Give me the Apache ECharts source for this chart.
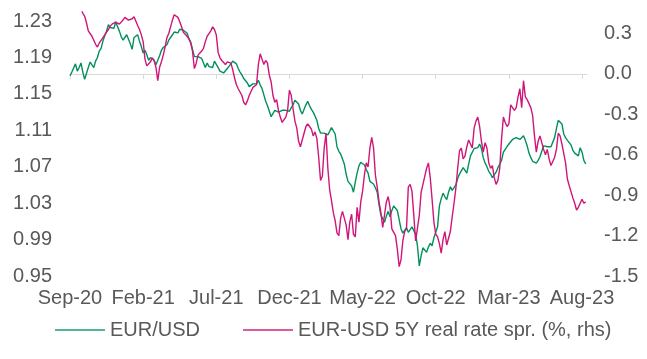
<!DOCTYPE html>
<html>
<head>
<meta charset="utf-8">
<script src="https://cdn.jsdelivr.net/npm/echarts@6/dist/echarts.min.js"></script>
<style>html,body{margin:0;padding:0;background:#fff;}#c{width:647px;height:359px;}</style>
</head>
<body>
<div id="c"></div>
<script>
// x tick labels (every 5 months)
const tickLabels = ['Sep-20','Feb-21','Jul-21','Dec-21','May-22','Oct-22','Mar-23','Aug-23'];
// sampling step in months (roughly twice-weekly observations)
const stepMonths = 0.125;

// EUR/USD (lhs)
const eurusd = [
1.170,1.174,1.176,1.183,1.175,1.179,1.184,1.174,1.166,1.166,
1.179,1.185,1.184,1.179,1.186,1.190,1.197,1.200,1.208,1.214,
1.219,1.226,1.223,1.222,1.222,1.229,1.229,1.219,1.213,1.209,
1.212,1.215,1.215,1.205,1.199,1.212,1.214,1.215,1.208,1.202,
1.195,1.198,1.193,1.187,1.190,1.192,1.187,1.182,1.183,1.192,
1.198,1.201,1.200,1.204,1.209,1.212,1.212,1.218,1.216,1.217,
1.221,1.223,1.220,1.218,1.217,1.211,1.207,1.199,1.191,1.192,
1.191,1.193,1.189,1.184,1.179,1.184,1.180,1.181,1.179,1.186,
1.186,1.179,1.175,1.176,1.173,1.175,1.178,1.178,1.183,1.186,
1.186,1.183,1.178,1.174,1.171,1.167,1.165,1.162,1.158,1.157,
1.161,1.163,1.161,1.165,1.160,1.156,1.149,1.142,1.137,1.131,
1.125,1.126,1.132,1.130,1.130,1.129,1.132,1.131,1.132,1.130,
1.131,1.135,1.138,1.143,1.145,1.139,1.132,1.128,1.130,1.138,
1.142,1.137,1.133,1.130,1.128,1.121,1.112,1.107,1.106,1.107,
1.106,1.105,1.109,1.113,1.115,1.106,1.092,1.087,1.084,1.082,
1.073,1.062,1.054,1.052,1.049,1.042,1.053,1.063,1.071,1.075,
1.076,1.072,1.067,1.063,1.054,1.055,1.051,1.047,1.042,1.028,
1.017,1.013,1.009,1.016,1.021,1.015,1.022,1.027,1.029,1.022,
1.012,1.002,0.997,1.000,1.003,0.998,1.000,1.004,1.006,0.996,
0.983,0.961,0.972,0.981,0.981,0.976,0.982,0.986,0.983,0.992,
0.998,1.004,1.027,1.035,1.041,1.037,1.034,1.042,1.048,1.044,
1.044,1.050,1.057,1.062,1.064,1.069,1.066,1.063,1.073,1.082,
1.086,1.090,1.090,1.091,1.095,1.090,1.080,1.074,1.070,1.065,
1.062,1.058,1.057,1.064,1.069,1.073,1.077,1.086,1.088,1.092,
1.095,1.093,1.100,1.101,1.102,1.103,1.100,1.102,1.104,1.099,
1.093,1.085,1.080,1.076,1.076,1.074,1.077,1.081,1.087,1.093,
1.095,1.092,1.094,1.092,1.094,1.102,1.112,1.121,1.122,1.117,
1.106,1.102,1.099,1.097,1.094,1.088,1.085,1.084,1.082,1.091,
1.086,1.077,1.073
];

// EUR-USD 5Y real rate spread, % (rhs)
const realSpread = [
0.66,0.64,0.62,0.60,0.57,0.53,0.49,0.45,0.43,0.38,
0.32,0.31,0.28,0.25,0.22,0.20,0.23,0.25,0.27,0.29,
0.31,0.33,0.355,0.37,0.38,0.385,0.38,0.37,0.38,0.40,
0.42,0.41,0.40,0.39,0.41,0.425,0.43,0.36,0.33,0.29,
0.24,0.11,0.06,0.07,0.09,0.12,0.10,0.05,-0.05,0.05,
0.09,0.14,0.20,0.27,0.30,0.35,0.40,0.44,0.45,0.42,
0.39,0.35,0.31,0.30,0.28,0.26,0.23,0.17,0.04,0.08,
0.14,0.15,0.17,0.19,0.24,0.28,0.30,0.32,0.35,0.33,
0.29,0.16,0.12,0.10,0.09,0.07,0.09,0.09,0.08,0.03,
-0.03,-0.08,-0.11,-0.10,-0.16,-0.21,-0.23,-0.20,-0.16,-0.13,
-0.10,-0.11,-0.08,0.07,0.15,0.11,0.07,0.10,0.08,-0.01,
-0.06,-0.16,-0.21,-0.19,-0.27,-0.32,-0.36,-0.37,-0.32,-0.27,
-0.12,-0.16,-0.26,-0.35,-0.40,-0.50,-0.54,-0.55,-0.44,-0.39,
-0.37,-0.39,-0.41,-0.46,-0.43,-0.48,-0.62,-0.79,-0.76,-0.55,
-0.44,-0.70,-0.86,-0.94,-1.03,-1.09,-1.18,-1.20,-1.07,-1.02,
-1.02,-1.12,-1.23,-1.10,-1.04,-1.19,-1.21,-0.99,-1.10,-0.95,
-0.87,-0.75,-0.66,-0.69,-0.55,-0.47,-0.55,-0.75,-0.84,-0.95,
-1.03,-1.14,-1.14,-0.95,-0.91,-0.99,-1.15,-1.14,-1.20,-1.30,
-1.43,-1.38,-1.24,-1.17,-1.15,-0.84,-0.82,-0.87,-1.05,-1.24,
-1.25,-1.05,-0.88,-0.82,-0.76,-0.70,-0.66,-0.77,-0.93,-1.10,
-1.19,-1.21,-1.26,-1.33,-1.23,-1.17,-1.27,-1.22,-1.17,-1.06,
-0.96,-0.85,-0.70,-0.57,-0.55,-0.63,-0.61,-0.54,-0.49,-0.48,
-0.55,-0.40,-0.35,-0.32,-0.39,-0.50,-0.58,-0.51,-0.55,-0.66,
-0.70,-0.68,-0.77,-0.82,-0.79,-0.70,-0.48,-0.32,-0.36,-0.39,
-0.37,-0.23,-0.22,-0.27,-0.25,-0.17,-0.11,-0.25,-0.05,-0.17,
-0.19,-0.22,-0.25,-0.31,-0.46,-0.58,-0.50,-0.46,-0.51,-0.56,
-0.60,-0.56,-0.63,-0.68,-0.65,-0.62,-0.56,-0.44,-0.46,-0.52,
-0.59,-0.66,-0.78,-0.83,-0.84,-0.92,-0.96,-1.01,-0.99,-0.96,
-0.93,-0.96,-0.95
];

const seriesNames = ['EUR/USD', 'EUR-USD 5Y real rate spr. (%, rhs)'];

const toPairs = arr => arr.map((v, i) => [i * stepMonths, v]);

const txt = '#595959';
const font = 'Liberation Sans, Arial, sans-serif';
const fs = 20;

const chart = echarts.init(document.getElementById('c'), null, {renderer: 'canvas'});
chart.setOption({
  animation: false,
  backgroundColor: '#fff',
  grid: {left: 70, right: 60, top: 12, bottom: 83, containLabel: false},
  legend: {
    top: 315, left: 50,
    itemWidth: 50, itemHeight: 2, itemGap: 43,
    icon: 'rect',
    textStyle: {color: txt, fontSize: fs, fontFamily: font},
    data: [
      {name: seriesNames[0], itemStyle: {color: '#4fb88f'}},
      {name: seriesNames[1], itemStyle: {color: '#de5a9c'}}
    ]
  },
  xAxis: {
    type: 'value', min: 0, max: 35.34, interval: 5,
    splitLine: {show: false},
    axisLine: {show: true, lineStyle: {color: '#d9d9d9', width: 1}},
    axisTick: {show: true, length: 5, lineStyle: {color: '#d9d9d9'}},
    axisLabel: {
      color: txt, fontSize: fs, fontFamily: font, margin: 12,
      showMaxLabel: false,
      formatter: v => tickLabels[Math.round(v / 5)] || ''
    }
  },
  yAxis: [
    {
      type: 'value', min: 0.95, max: 1.24, interval: 0.04,
      splitLine: {show: false}, axisLine: {show: false}, axisTick: {show: false},
      axisLabel: {color: txt, fontSize: fs, fontFamily: font, margin: 18, showMaxLabel: false,
        formatter: v => v.toFixed(2)}
    },
    {
      type: 'value', min: -1.5, max: 0.46, interval: 0.3, position: 'right',
      splitLine: {show: false}, axisLine: {show: false}, axisTick: {show: false},
      axisLabel: {color: txt, fontSize: fs, fontFamily: font, margin: 17, showMaxLabel: false,
        formatter: v => v.toFixed(1)}
    }
  ],
  series: [
    {
      name: seriesNames[0], type: 'line', yAxisIndex: 0, data: toPairs(eurusd),
      showSymbol: false, symbol: 'none', clip: true,
      lineStyle: {color: '#00915a', width: 1.4}, itemStyle: {color: '#00915a'}
    },
    {
      name: seriesNames[1], type: 'line', yAxisIndex: 1, data: toPairs(realSpread),
      showSymbol: false, symbol: 'none', clip: true,
      lineStyle: {color: '#d0157a', width: 1.4}, itemStyle: {color: '#d0157a'}
    }
  ]
});
</script>
</body>
</html>
